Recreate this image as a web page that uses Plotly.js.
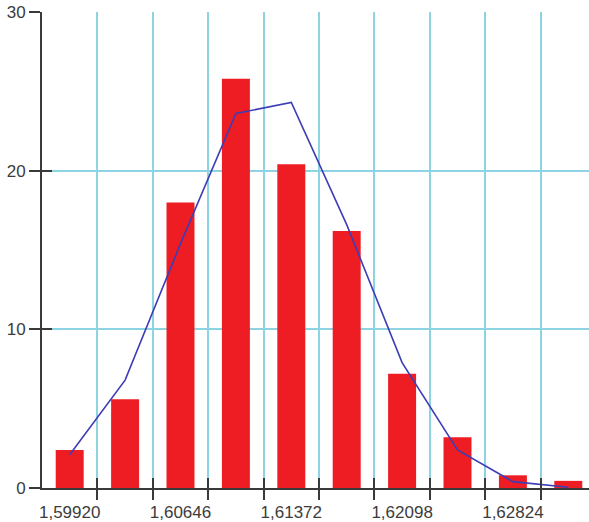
<!DOCTYPE html>
<html>
<head>
<meta charset="utf-8">
<script src="https://cdn.plot.ly/plotly-3.0.1.min.js"></script>
<style>html,body{margin:0;padding:0;background:#fff;}#chart{width:589px;height:522px;}</style>
</head>
<body>
<div id="chart"></div>
<script>
// Bin centres (x), bar heights (frequency) and fitted curve values
const binCenters = [1.59920, 1.60283, 1.60646, 1.61009, 1.61372, 1.61735, 1.62098, 1.62461, 1.62824, 1.63187];
const barValues  = [2.4, 5.6, 18.0, 25.8, 20.4, 16.2, 7.2, 3.2, 0.8, 0.45];
const curveValues = [2.1, 6.8, 15.4, 23.6, 24.3, 16.6, 7.9, 2.4, 0.4, 0.05];
const labelValues = [1.59920, 1.60646, 1.61372, 1.62098, 1.62824];
const labelText = ["1,59920", "1,60646", "1,61372", "1,62098", "1,62824"];
const yTicks = [0, 10, 20, 30];

const binWidth = binCenters[1] - binCenters[0];
const boundaries = binCenters.map(c => c + binWidth / 2);
const xRange = [binCenters[0] - binWidth / 2, binCenters[0] - binWidth / 2 + 547 / (55.4 / binWidth)];

const gridColor = '#8dd4e2';
const axisColor = '#3a3a3a';
const font = {family: 'Liberation Sans, Arial, sans-serif', size: 17, color: '#3c3c3c'};

const traces = [
  {type: 'bar', x: binCenters, y: barValues, width: binWidth * 0.505,
   marker: {color: '#ee1d24', line: {width: 0}}, xaxis: 'x', yaxis: 'y', hoverinfo: 'skip'},
  {type: 'scatter', mode: 'lines', x: binCenters, y: curveValues,
   line: {color: '#3d3db5', width: 1.6}, xaxis: 'x', yaxis: 'y', hoverinfo: 'skip'},
  {type: 'scatter', mode: 'markers', x: [], y: [], xaxis: 'x2', yaxis: 'y', showlegend: false},
  {type: 'scatter', mode: 'markers', x: [], y: [], xaxis: 'x3', yaxis: 'y', showlegend: false},
  {type: 'scatter', mode: 'markers', x: [], y: [], xaxis: 'x', yaxis: 'y2', showlegend: false}
];

const layout = {
  width: 589, height: 522,
  margin: {l: 42, r: 0, t: 12, b: 34, pad: 0},
  paper_bgcolor: '#fff', plot_bgcolor: '#fff',
  showlegend: false,
  font: font,
  xaxis: {range: xRange, tickmode: 'array', tickvals: boundaries, showticklabels: false,
          ticks: 'outside', ticklen: 10, tickwidth: 2, tickcolor: axisColor,
          showgrid: true, gridcolor: gridColor, gridwidth: 2, zeroline: false,
          showline: true, linecolor: axisColor, linewidth: 2, fixedrange: true},
  xaxis2: {overlaying: 'x', range: xRange, tickmode: 'array', tickvals: boundaries, showticklabels: false,
           ticks: 'inside', ticklen: 10, tickwidth: 2, tickcolor: axisColor,
           showgrid: false, zeroline: false, showline: false, anchor: 'y', side: 'bottom'},
  xaxis3: {overlaying: 'x', range: xRange, tickmode: 'array', tickvals: labelValues, ticktext: labelText,
           ticks: '', showgrid: false, zeroline: false, showline: false, anchor: 'y', side: 'bottom',
           tickfont: font, ticklabelstandoff: 12},
  yaxis: {range: [0, 30], tickmode: 'array', tickvals: yTicks,
          ticks: 'outside', ticklen: 11, tickwidth: 2, tickcolor: axisColor,
          showgrid: true, gridcolor: gridColor, gridwidth: 2, zeroline: false,
          showline: true, linecolor: axisColor, linewidth: 2, tickfont: font, fixedrange: true},
  yaxis2: {overlaying: 'y', range: [0, 30], tickmode: 'array', tickvals: yTicks, showticklabels: false,
           ticks: 'inside', ticklen: 10, tickwidth: 2, tickcolor: axisColor,
           showgrid: false, zeroline: false, showline: false, anchor: 'x', side: 'left'}
};

Plotly.newPlot('chart', traces, layout, {displayModeBar: false, staticPlot: true});
</script>
</body>
</html>
